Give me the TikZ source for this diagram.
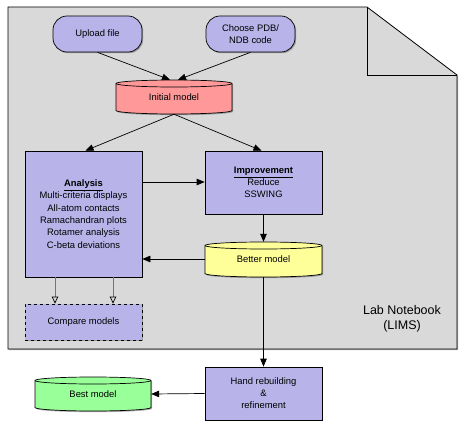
\documentclass[tikz,border=0pt]{standalone}
\usepackage{fontspec}
\setmainfont{Liberation Sans}
\usetikzlibrary{arrows.meta,shadows}
\definecolor{lav}{HTML}{B8B4EA}
\definecolor{pinkred}{HTML}{FF9999}
\definecolor{lyellow}{HTML}{FFFF99}
\definecolor{lgreen}{HTML}{99FF99}
\definecolor{paper}{HTML}{D9D9D9}
\tikzset{
  shad/.style={drop shadow={shadow xshift=1.2pt,shadow yshift=-1.2pt,opacity=0.45,fill=black!70}},
  proc/.style={draw=black, line width=0.7pt, fill=lav, align=center, font=\fontsize{9.4}{12.3}\selectfont, inner sep=0pt, shad},
  term/.style={proc, rounded corners=14pt},
  cyltxt/.style={font=\fontsize{9.4}{11}\selectfont, inner sep=0pt},
  cylbody/.style={draw=black, line width=0.7pt, shad},
  conn/.style={line width=0.7pt, -{Triangle[length=8pt,width=6.5pt]}},
  openconn/.style={line width=0.7pt, draw=black!55, -{Triangle[open,length=7pt,width=6.5pt,color=black]}},
}
% #1 name, #2 cx, #3 cy, #4 width, #5 height, #6 colour, #7 text
\newcommand\cylnode[7]{%
  \path[cylbody, fill=#6] ({#2-#4/2},{#3-#5/2+3.5}) -- ({#2-#4/2},{#3+#5/2-3.5})
     arc[start angle=180,end angle=360,x radius={#4/2*1pt},y radius=3.5pt]
     -- ({#2+#4/2},{#3-#5/2+3.5})
     arc[start angle=0,end angle=180,x radius={#4/2*1pt},y radius=3.5pt] -- cycle;
  \draw[line width=0.7pt] ({#2-#4/2},{#3-#5/2+3.5})
     arc[start angle=180,end angle=360,x radius={#4/2*1pt},y radius=3.5pt];
  \node[cyltxt, minimum width=#4 pt, minimum height=#5 pt] (#1) at (#2,#3) {\raisebox{-2pt}{#7}};
}
\begin{document}
\begin{tikzpicture}[x=1pt,y=-1pt]
\useasboundingbox (0,0) rectangle (464,428);
% notebook
\path[draw=black, line width=0.8pt, fill=paper, shad]
  (8,7) -- (367,7) -- (457,75) -- (457,349) -- (8,349) -- cycle;
\draw[line width=0.8pt] (367,7) -- (367,75) -- (457,75);
\node[font=\fontsize{12.5}{14.5}\selectfont, align=center] (lims) at (402,319) {Lab Notebook\\(LIMS)};

% nodes
\node[term, minimum width=89pt, minimum height=36pt] (upload) at (97.5,34) {Upload file};
\node[term, minimum width=89pt, minimum height=36pt] (choose) at (250.5,34) {Choose PDB/\\NDB code};
\cylnode{init}{174}{97}{116}{34}{pinkred}{Initial model}
\node[proc, minimum width=117pt, minimum height=126pt] (anal) at (83.5,214)
  {\underline{\textbf{Analysis}}\\Multi-criteria displays\\All-atom contacts\\Ramachandran plots\\Rotamer analysis\\C-beta deviations};
\node[proc, minimum width=117pt, minimum height=63pt] (impr) at (263.5,182.5)
  {\underline{\textbf{Improvement}}\\Reduce\\SSWING};
\cylnode{better}{263.5}{259.5}{117}{35}{lyellow}{Better model}
\node[proc, dashed, minimum width=117pt, minimum height=36pt] (comp) at (83.5,322) {Compare models};
\node[proc, minimum width=117pt, minimum height=53pt, font=\fontsize{9.4}{12}\selectfont] (hand) at (263.5,393.5) {Hand rebuilding\\\&\\refinement};
\cylnode{best}{93}{394}{116}{34}{lgreen}{Best model}

% connectors
\draw[conn] (upload.south) -- ([xshift=-4pt]init.north);
\draw[conn] (choose.south) -- ([xshift=4pt]init.north);
\draw[conn] (init.south) -- ([xshift=2pt]anal.north);
\draw[conn] (init.south) -- ([xshift=-2pt]impr.north);
\draw[conn] (anal.east |- 0,182) -- (impr.west |- 0,182);
\draw[conn] (impr.south) -- (better.north);
\draw[conn] (better.west |- 0,259) -- (anal.east |- 0,259);
\draw[openconn] (anal.south -| 55,0) -- (comp.north -| 55,0);
\draw[openconn] (anal.south -| 113,0) -- (comp.north -| 113,0);
\draw[conn] (better.south) -- (hand.north);
\draw[conn] (hand.west) -- (best.east);
\end{tikzpicture}
\end{document}
